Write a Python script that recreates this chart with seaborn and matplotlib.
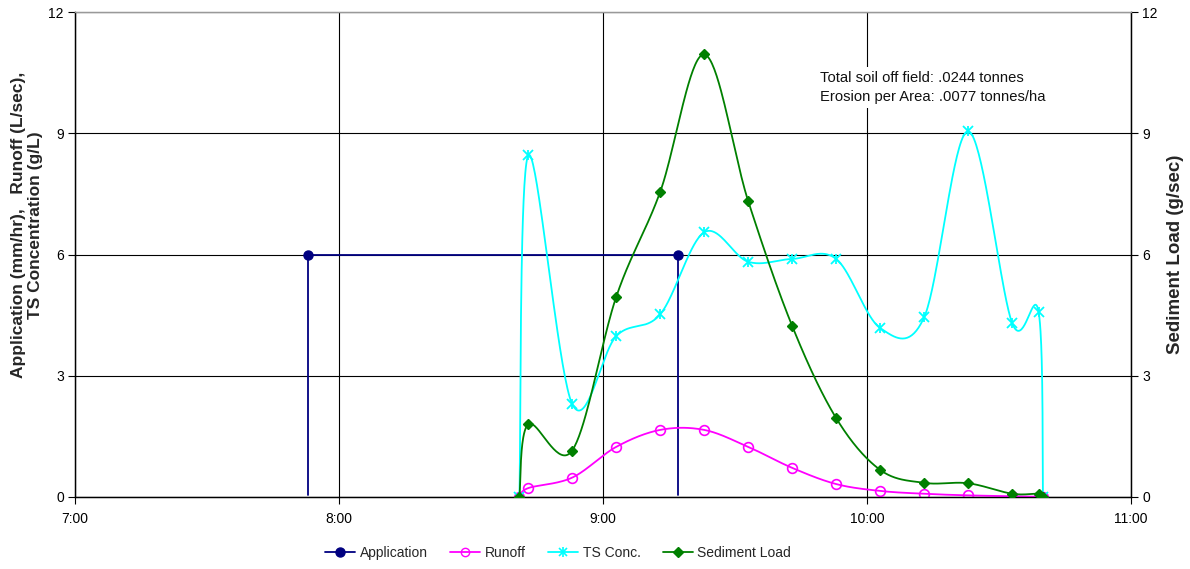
import numpy as np
import pandas as pd
import matplotlib
matplotlib.use("Agg")
import matplotlib.pyplot as plt
import seaborn as sns
from matplotlib.lines import Line2D
from matplotlib.legend_handler import HandlerTuple

# ---------------- data ----------------
app_times = ["7:53", "7:53", "9:17", "9:17"]
app_values = [0.05, 6.0, 6.0, 0.05]

times = ["8:41", "8:43", "8:53", "9:03", "9:13", "9:23", "9:33", "9:43",
         "9:53", "10:03", "10:13", "10:23", "10:33", "10:39", "10:40"]
runoff = [0.0, 0.22, 0.48, 1.24, 1.66, 1.66, 1.24, 0.72, 0.32, 0.15, 0.08,
          0.04, 0.02, 0.01, 0.0]
ts_conc = [0.0, 8.45, 2.3, 3.98, 4.52, 6.55, 5.82, 5.89, 5.89, 4.18, 4.45,
           9.05, 4.3, 4.58, 0.0]
sediment = [0.0, 1.8, 1.15, 4.95, 7.55, 10.95, 7.32, 4.23, 1.95, 0.67, 0.35,
            0.34, 0.08, 0.08, 0.0]

x_ticks = ["7:00", "8:00", "9:00", "10:00", "11:00"]
y_ticks = [0, 3, 6, 9, 12]

note = "Total soil off field: .0244 tonnes\nErosion per Area: .0077 tonnes/ha"


def to_hours(s):
    h, m = s.split(":")
    return int(h) + int(m) / 60.0


def smooth(x, y, n=40):
    pts = np.column_stack([x, y]).astype(float)
    out = []
    for i in range(len(pts) - 1):
        p0 = pts[i - 1] if i > 0 else pts[i]
        p1 = pts[i]
        p2 = pts[i + 1]
        p3 = pts[i + 2] if i + 2 < len(pts) else pts[i + 1]
        c1 = p1 + (p2 - p0) / 6.0
        c2 = p2 - (p3 - p1) / 6.0
        t = np.linspace(0, 1, n)[:, None]
        seg = ((1 - t) ** 3) * p1 + 3 * ((1 - t) ** 2) * t * c1 \
            + 3 * (1 - t) * t ** 2 * c2 + t ** 3 * p2
        out.append(seg if i == 0 else seg[1:])
    arr = np.vstack(out)
    return arr[:, 0], arr[:, 1]


sns.set_theme(style="white")
plt.rcParams['font.family'] = ['Liberation Sans', 'DejaVu Sans']

fig = plt.figure(figsize=(11.9, 5.69), dpi=100)
L, R, B, T = 75 / 1190, 1131 / 1190, (569 - 497) / 569, (569 - 12) / 569
ax = fig.add_axes([L, B, R - L, T - B])
ax2 = ax.twinx()

tx = np.array([to_hours(t) for t in times])
ax_x = np.array([to_hours(t) for t in app_times])

C_APP, C_RUN, C_TS, C_SED = "#000080", "#FF00FF", "#00FFFF", "#008000"

# Application (straight lines)
sns.lineplot(x=ax_x, y=app_values, ax=ax, color=C_APP, lw=1.3, sort=False,
             estimator=None, zorder=3)
ax.plot(ax_x[1:3], np.array(app_values)[1:3], ls="none", marker="o",
        ms=6.5, color=C_APP, zorder=4)

# Runoff
sx, sy = smooth(tx, runoff)
sns.lineplot(x=sx, y=sy, ax=ax, color=C_RUN, lw=1.3, sort=False,
             estimator=None, zorder=3)
ax.plot(tx, runoff, ls="none", marker="o", ms=7, mfc="none", mec=C_RUN,
        mew=1.2, zorder=4)

# TS Concentration
sx, sy = smooth(tx, ts_conc)
sns.lineplot(x=sx, y=sy, ax=ax, color=C_TS, lw=1.3, sort=False,
             estimator=None, zorder=3)
ax.plot(tx, ts_conc, ls="none", marker="x", ms=6.5, mew=1.3, color=C_TS, zorder=4)
ax.plot(tx, ts_conc, ls="none", marker="|", ms=7, mew=1.3, color=C_TS, zorder=4)

# Sediment load on right axis
sx, sy = smooth(tx, sediment)
sns.lineplot(x=sx, y=sy, ax=ax2, color=C_SED, lw=1.3, sort=False,
             estimator=None, zorder=3)
ax2.plot(tx, sediment, ls="none", marker="D", ms=5.5, color=C_SED, zorder=4)

# axes formatting
for a in (ax, ax2):
    a.set_ylim(0, 12)
    a.set_yticks(y_ticks)
    a.set_xlim(7, 11)
    a.set_ylabel("")
    a.set_xlabel("")
ax.set_xticks([to_hours(t) for t in x_ticks])
ax.set_xticklabels(x_ticks)
ax.set_yticklabels([str(v) for v in y_ticks])
ax2.set_yticklabels([str(v) for v in y_ticks])

ax.grid(True, color="black", lw=0.8)
ax.set_axisbelow(True)
ax2.grid(False)
ax2.patch.set_visible(False)

for a in (ax, ax2):
    for s in a.spines.values():
        s.set_color("black")
        s.set_linewidth(0.9)
    a.spines["top"].set_color("#999999")

ax.tick_params(axis="both", which="both", length=5, width=0.8, color="black",
               labelsize=10, labelcolor="black", direction="out", pad=3,
               left=True, bottom=True)
ax.tick_params(axis="x", pad=6)
ax2.tick_params(axis="y", length=5, width=0.8, color="black", labelsize=10,
                labelcolor="black", direction="out", pad=3, right=True)

fig.text(27 / 1190, 1 - 225 / 569,
         "Application (mm/hr),   Runoff (L/sec),\nTS Concentration (g/L)",
         rotation=90, ha="center", va="center", fontsize=12.5,
         fontweight="bold", linespacing=1.2)
fig.text(1175 / 1190, 1 - 254 / 569, "Sediment Load (g/sec)", rotation=90,
         ha="center", va="center", fontsize=13.5, fontweight="bold")

ax2.text((820 - 75) / 1056, 1 - (71 - 12) / 485, note, transform=ax2.transAxes,
         ha="left", va="top", fontsize=10.6, linespacing=1.45, color="#111111",
         bbox=dict(facecolor="white", edgecolor="none", pad=3), zorder=10)

handles = [
    Line2D([], [], color=C_APP, marker="o", ms=6.5, lw=1.3),
    Line2D([], [], color=C_RUN, marker="o", ms=6, mfc="none", lw=1.3),
    (Line2D([], [], color=C_TS, marker="x", ms=6, mew=1.2, lw=1.3),
     Line2D([], [], color=C_TS, marker="|", ms=7, mew=1.2, lw=0)),
    Line2D([], [], color=C_SED, marker="D", ms=5, lw=1.3),
]
fig.legend(handles, ["Application", "Runoff", "TS Conc.", "Sediment Load"],
           handler_map={tuple: HandlerTuple(ndivide=1)},
           loc="center", bbox_to_anchor=(558 / 1190, 1 - 553 / 569), ncol=4,
           frameon=False, fontsize=10, handlelength=2.2, handletextpad=0.3,
           columnspacing=1.6)

fig.savefig("out.png", dpi=100)
